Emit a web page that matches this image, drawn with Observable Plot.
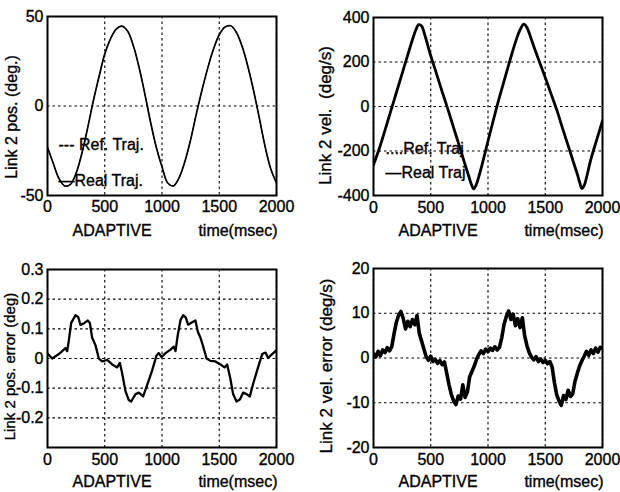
<!DOCTYPE html>
<html><head><meta charset="utf-8">
<script src="https://cdn.jsdelivr.net/npm/d3@7"></script>
<script src="https://cdn.jsdelivr.net/npm/@observablehq/plot@0.6"></script>
<style>
html,body{margin:0;padding:0;background:#fff;}
#root{position:relative;width:620px;height:492px;overflow:hidden;background:#fff;}
.cell{position:absolute;overflow:hidden;}
.cell svg{position:absolute;top:0;display:block;}
.cell svg text{stroke:black;stroke-width:0.35px;}
</style></head><body><div id="root"></div>
<script>
// ---- shared axis ----
const xTicks = [0, 500, 1000, 1500, 2000];
const xNote = "ADAPTIVE";
const xLabel = "time(msec)";
const legendRef1 = "--- Ref. Traj.";
const legendReal1 = "\u2014Real Traj.";
const legendRef2 = "....Ref. Traj";
const legendReal2 = "\u2014Real Traj";

// ---- panel 1: link 2 position (deg) ----
const posLabel = "Link 2 pos. (deg.)";
const posTicks = [-50, 0, 50];
const posT = [0,50,100,150,200,250,300,350,400,450,500,550,600,650,700,750,800,850,900,950,1000,
  1050,1100,1150,1200,1250,1300,1350,1400,1450,1500,1550,1600,1650,1700,1750,1800,1850,1900,1950,2000];
const posV = [-23,-32,-40.5,-44.6,-43.8,-37.5,-26.5,-12.5,2.8,16.3,29,37.5,43,44.6,41.8,33.6,21.5,6.8,-9,-23,-34,
  -43,-44.6,-40,-31,-18.8,-4.4,9.1,21.3,31.8,39.8,44.1,44.8,41.1,33.3,22.1,8.5,-6.7,-22.5,-35.2,-43];

// ---- panel 2: link 2 velocity (deg/s) ----
const velLabel = "Link 2 vel.  (deg/s)";
const velTicks = [-400, -200, 0, 200, 400];
const velT = [0,50,100,150,200,250,300,340,370,395,420,450,500,550,600,650,700,750,800,830,855,875,895,920,950,1000,
  1050,1100,1150,1200,1250,1280,1313,1340,1370,1400,1450,1500,1550,1600,1650,1700,1750,1780,1800,1820,1840,1860,1900,1950,2000];
const velV = [-262,-190,-107,-22,63,148,233,300,345,368,362,318,228,148,66,-13,-96,-178,-261,-310,-350,-370,-355,-315,-258,-155,
  -55,42,132,222,305,345,370,355,315,270,200,130,58,-14,-96,-176,-256,-304,-340,-368,-355,-320,-234,-149,-64];

// ---- panel 3: link 2 position error (deg) ----
const perLabel = "Link 2 pos. error (deg)";
const perTicks = [-0.2, -0.1, 0, 0.1, 0.2, 0.3];
const perT = [0,41,99,157,172,186,207,245,268,288,323,352,370,390,419,448,477,521,565,608,632,652,681,710,731,769,798,835,870,914,952,972,996,
  1031,1074,1103,1118,1138,1162,1185,1208,1228,1263,1292,1313,1336,1360,1389,1423,1467,1511,1546,1569,1598,1621,1651,1680,1709,1738,1767,1796,1831,1875,1904,1927,1962,2000];
const perV = [0.017,0,0.015,0.035,0.025,0.06,0.12,0.146,0.14,0.113,0.12,0.128,0.12,0.07,0.045,0,-0.01,-0.005,-0.02,-0.03,-0.015,-0.05,-0.11,-0.14,-0.145,-0.12,-0.115,-0.128,-0.09,-0.04,0.01,0.018,0.005,
  0.018,0.03,0.04,0.025,0.08,0.13,0.146,0.138,0.114,0.122,0.128,0.09,0.07,0.04,0,-0.008,-0.01,-0.02,-0.03,-0.02,-0.07,-0.12,-0.145,-0.138,-0.115,-0.12,-0.128,-0.085,-0.04,0.015,0.02,0.002,0.015,0.028];

// ---- panel 4: link 2 velocity error (deg/s) ----
const verLabel = "Link 2 vel. error (deg/s)";
const verTicks = [-20, -10, 0, 10, 20];
const verT = d3.range(0, 2001, 20);
const verV = [1.0,0.2,1.5,0.5,1.8,1.2,2.3,1.6,2.6,5.5,8.0,9.6,10.4,8.8,6.5,8.2,7.0,8.6,7.4,9.5,
  5.5,3.8,2.0,0.3,-0.5,0.4,-0.8,-0.3,-1.2,-0.6,-1.5,-0.9,-3.5,-6.0,-8.2,-9.6,-10.4,-8.5,-9.2,-6.0,
  -8.8,-7.6,-4.2,-3.0,-1.8,-0.3,0.8,1.6,1.0,2.0,1.4,2.2,1.7,2.5,1.8,2.4,4.5,7.5,9.3,10.5,
  8.6,9.8,7.2,8.8,6.8,9.0,5.0,2.8,1.2,0.2,-0.4,0.3,-0.8,-0.2,-1.0,-0.5,-1.3,-0.8,-2.0,-5.5,
  -8.2,-9.6,-10.6,-8.4,-9.3,-7.2,-8.6,-8.0,-5.2,-3.4,-1.8,-0.6,0.4,1.5,0.6,1.8,1.0,2.2,1.3,2.4,2.2];

const FONT = "'Liberation Sans', Arial, Helvetica, sans-serif";
const GRID = {stroke: "black", strokeWidth: 1.1, strokeDasharray: "2.5,3"};

function panel(o) {
  const marks = [
    Plot.ruleX(xTicks, GRID),
    Plot.ruleY(o.yTicks, GRID),
    Plot.axisX({ticks: xTicks, tickSize: 0, tickPadding: o.xPad, tickFormat: d => String(d), label: null, fontSize: 16}),
    Plot.axisY({ticks: o.yTicks, tickSize: 0, tickPadding: 4, tickFormat: d => String(d), label: null, fontSize: 16}),
    Plot.text([o.yLabel], {frameAnchor: "left", text: d => d, rotate: -90, textAnchor: "middle", lineAnchor: "bottom", dx: o.ldx, dy: o.ldy, fontSize: o.lfs}),
    Plot.text([xNote], {frameAnchor: "bottom-left", text: d => d, textAnchor: "start", lineAnchor: "middle", dx: 25, dy: o.ndy, fontSize: 16}),
    Plot.text([xLabel], {frameAnchor: "bottom-right", text: d => d, textAnchor: "end", lineAnchor: "middle", dx: 1, dy: o.ndy, fontSize: 16})
  ];
  if (o.legend) {
    marks.push(Plot.text([o.legend[0]], {frameAnchor: "top-left", text: d => d, textAnchor: "start", lineAnchor: "middle", dx: o.legend[2], dy: o.legend[3], fontSize: 16}));
    marks.push(Plot.text([o.legend[1]], {frameAnchor: "top-left", text: d => d, textAnchor: "start", lineAnchor: "middle", dx: o.legend[2], dy: o.legend[4], fontSize: 16}));
  }
  for (const s of o.series) {
    marks.push(Plot.line(s.v, {x: s.t, y: d => d, stroke: "black", strokeWidth: s.w, strokeDasharray: s.dash, curve: s.curve || "linear", clip: true}));
  }
  marks.push(Plot.frame({stroke: "black", strokeWidth: 2}));
  return Plot.plot({
    width: 310, height: 246,
    marginLeft: o.m[3], marginRight: o.m[1], marginTop: o.m[0], marginBottom: o.m[2],
    x: {domain: [0, 2000], axis: null},
    y: {domain: o.yDomain, axis: null},
    style: {fontFamily: FONT, fontSize: "16px", color: "black", background: "white", overflow: "visible"},
    marks
  });
}

function place(svg, left, top) {
  const cell = document.createElement("div");
  cell.className = "cell";
  cell.style.left = left + "px"; cell.style.top = top + "px";
  cell.style.width = "310px"; cell.style.height = "246px";
  svg.style.left = "0px";
  cell.appendChild(svg);
  document.getElementById("root").appendChild(cell);
}

const p1 = panel({
  yDomain: [-50, 50], yTicks: posTicks, yLabel: posLabel, m: [16, 34, 51, 47], xPad: 5,
  ldx: -31, ldy: 11, lfs: 16, ndy: 35,
  legend: [legendRef1, legendReal1, 11, 128, 164],
  series: [
    {t: posT, v: posV, w: 1, dash: "3,2", curve: "catmull-rom"},
    {t: posT, v: posV, w: 1.7, curve: "catmull-rom"}
  ]
});
const p2 = panel({
  yDomain: [-400, 400], yTicks: velTicks, yLabel: velLabel, m: [17, 18, 51, 63], xPad: 6,
  ldx: -43, ldy: 9, lfs: 17, ndy: 35,
  legend: [legendRef2, legendReal2, 12, 131, 155],
  series: [
    {t: velT, v: velV, w: 1, dash: "2,2", curve: "catmull-rom"},
    {t: velT, v: velV, w: 2.8, curve: "catmull-rom"}
  ]
});
const p3 = panel({
  yDomain: [-0.3, 0.3], yTicks: perTicks, yLabel: perLabel, m: [23, 34, 45, 47], xPad: 6,
  ldx: -33, ldy: 8, lfs: 15, ndy: 34,
  series: [{t: perT, v: perV, w: 2.3}]
});
const p4 = panel({
  yDomain: [-20, 20], yTicks: verTicks, yLabel: verLabel, m: [22, 18, 45, 63], xPad: 6,
  ldx: -42, ldy: 8, lfs: 17, ndy: 34,
  series: [{t: verT, v: verV, w: 3.6}]
});

place(p1, 0, 0);
place(p2, 310, 0);
place(p3, 0, 246);
place(p4, 310, 246);
</script>
</body></html>
